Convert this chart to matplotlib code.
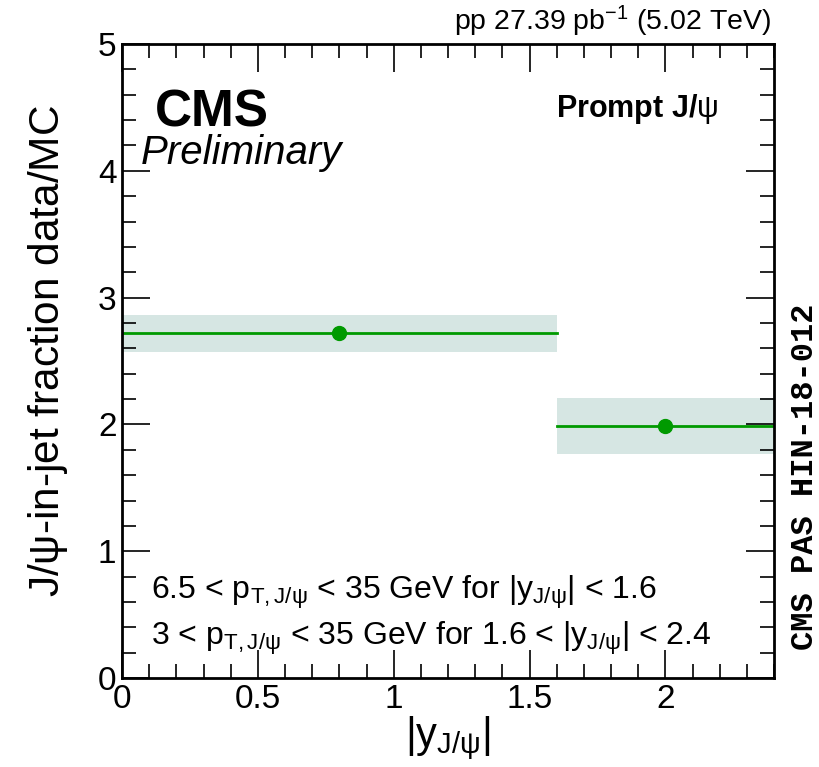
import matplotlib
matplotlib.use('Agg')
import matplotlib.pyplot as plt
from matplotlib.ticker import MultipleLocator

plt.rcParams['font.family'] = ['Liberation Sans', 'DejaVu Sans']
plt.rcParams['mathtext.fontset'] = 'custom'
plt.rcParams['mathtext.rm'] = 'Liberation Sans'
plt.rcParams['mathtext.it'] = 'Liberation Sans'
plt.rcParams['mathtext.bf'] = 'Liberation Sans:bold'

# data
bin_lo = [0.0, 1.6]
bin_hi = [1.6, 2.4]
ratio = [2.72, 1.99]
stat_err = [0.04, 0.05]
syst_lo = [2.57, 1.77]
syst_hi = [2.86, 2.21]

green = '#009a00'
band = '#d6e6e3'

fig = plt.figure(figsize=(8.2, 7.67), dpi=100)
ax = fig.add_axes([0.1488, 0.116, 0.7952, 0.8266])

for lo, hi, v, e, sl, sh in zip(bin_lo, bin_hi, ratio, stat_err, syst_lo, syst_hi):
    ax.fill_between([lo, hi], [sl, sl], [sh, sh], color=band, lw=0, zorder=1)
    ax.plot([lo, hi], [v, v], color=green, lw=2, zorder=2)
    ax.errorbar([(lo + hi) / 2], [v], yerr=[e], fmt='o', color=green, ms=10,
                elinewidth=1.5, capsize=0, zorder=3)

ax.set_xlim(0, 2.4)
ax.set_ylim(0, 5)
ax.xaxis.set_minor_locator(MultipleLocator(0.1))
ax.yaxis.set_minor_locator(MultipleLocator(0.2))
ax.tick_params(which='both', direction='in', top=True, right=True, width=1.2)
ax.tick_params(which='major', length=20, labelsize=24, pad=4)
ax.tick_params(which='minor', length=10)
for s in ax.spines.values():
    s.set_linewidth(2)
ax.set_xticks([0, 0.5, 1, 1.5, 2])
ax.set_xticklabels(['0', '0.5', '1', '1.5', '2'])
ax.set_yticks([0, 1, 2, 3, 4, 5])
ax.set_yticklabels(['0', '1', '2', '3', '4', '5'])

ax.set_xlabel(r'$|y_{J/\psi}|$', fontsize=30, labelpad=0)
ax.set_ylabel(r'J/$\psi$-in-jet fraction data/MC', fontsize=30.5)
ax.yaxis.set_label_coords(-0.08, 0.516)

ax.text(0.05, 0.87, 'CMS', transform=ax.transAxes, fontsize=37, fontweight='bold')
ax.text(0.028, 0.81, 'Preliminary', transform=ax.transAxes, fontsize=29, style='italic')
ax.text(0.914, 0.885, r'Prompt J/$\psi$', transform=ax.transAxes, fontsize=22,
        fontweight='bold', ha='right')
ax.text(0.045, 0.125, r'6.5 < p$_{\mathregular{T,J/\psi}}$ < 35 GeV for |y$_{\mathregular{J/\psi}}$| < 1.6',
        transform=ax.transAxes, fontsize=23)
ax.text(0.045, 0.053, r'3 < p$_{\mathregular{T,J/\psi}}$ < 35 GeV for 1.6 < |y$_{\mathregular{J/\psi}}$| < 2.4',
        transform=ax.transAxes, fontsize=23)
ax.text(0.995, 1.008, r'pp 27.39 pb$^{-1}$ (5.02 TeV)', transform=ax.transAxes,
        fontsize=20.5, ha='right', va='bottom')
fig.text(0.982, 0.379, 'CMS PAS HIN-18-012', rotation=90, fontsize=23,
         fontweight='bold', family='Liberation Mono', ha='center', va='center')

fig.savefig('out.png', dpi=100)
